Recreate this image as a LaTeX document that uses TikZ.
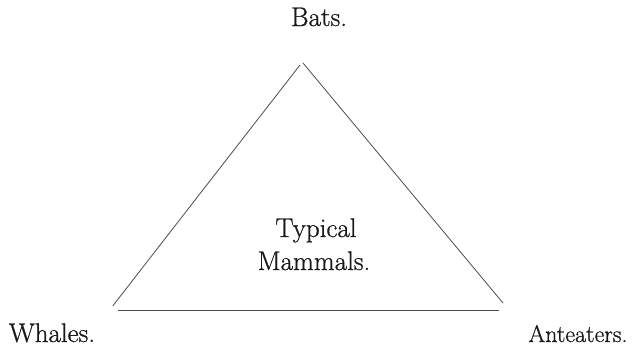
\documentclass[tikz,border=0pt]{standalone}
\usepackage{fontspec}
\setmainfont{Latin Modern Roman}[FakeBold=0.8]
\begin{document}
\begin{tikzpicture}[x=1pt,y=-1pt,
  lbl/.style={anchor=base,inner sep=0pt,font=\fontsize{27}{31}\selectfont,text=black!90},
  edge/.style={draw=black!70,line width=0.8pt}]
\useasboundingbox[fill=white] (0,0) rectangle (638,349);
\coordinate (topL) at (300,65);
\coordinate (topR) at (303,63);
\coordinate (botL) at (112.7,306);
\coordinate (botR) at (503,303);
\coordinate (baseL) at (118,310);
\coordinate (baseR) at (499,310);
\draw[edge] (botL) -- (topL);
\draw[edge] (topR) -- (botR);
\draw[edge] (baseL) -- (baseR);
\node[lbl] (bats) at (319,26) {Bats.};
\node[lbl] (typ) at (316,237) {Typical};
\node[lbl] (mam) at (314,270) {Mammals.};
\node[lbl] (wha) at (52,342) {Whales.};
\node[lbl,font=\fontsize{24}{28}\selectfont] (ant) at (578,342) {Anteaters.};
\end{tikzpicture}
\end{document}
